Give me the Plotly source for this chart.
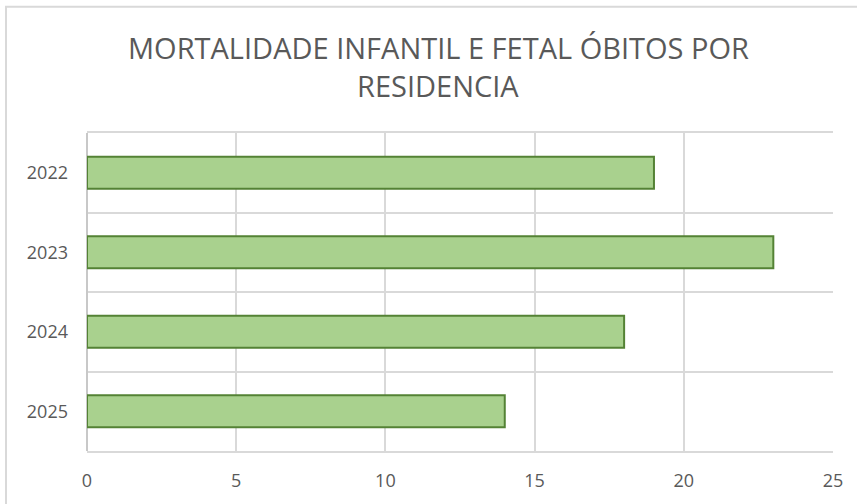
import plotly.graph_objects as go

years = ["2022", "2023", "2024", "2025"]
obitos = [19, 23, 18, 14]
x_ticks = [0, 5, 10, 15, 20, 25]

title_lines = ["MORTALIDADE INFANTIL E FETAL ÓBITOS POR", "RESIDENCIA"]

fig = go.Figure(
    go.Bar(
        x=obitos,
        y=years,
        orientation="h",
        marker=dict(color="#a9d18e", line=dict(color="#548235", width=2)),
        hoverinfo="x+y",
    )
)

# plot area spans px x 87..833, y 133..453
def px_x(px):
    return (px - 87) / 746

def px_y(py):
    return (453 - py) / 320

title_centers = [47, 85]

annotations = [
    dict(
        text=t,
        xref="paper",
        yref="paper",
        x=px_x(438),
        y=px_y(cy),
        xanchor="center",
        yanchor="middle",
        showarrow=False,
        font=dict(family="Open Sans", size=29, color="#595959"),
    )
    for t, cy in zip(title_lines, title_centers)
]

fig.update_layout(
    width=857,
    height=504,
    margin=dict(l=87, r=24, t=133, b=51),
    paper_bgcolor="white",
    plot_bgcolor="white",
    bargap=0.6,
    showlegend=False,
    font=dict(family="Open Sans", color="#595959"),
    annotations=annotations,
    shapes=[
        dict(
            type="rect",
            xref="paper",
            yref="paper",
            x0=px_x(6),
            x1=1.3,
            y0=-0.5,
            y1=px_y(6),
            line=dict(color="#d9d9d9", width=2),
            fillcolor="rgba(0,0,0,0)",
            layer="below",
        )
    ],
)

fig.update_xaxes(
    range=[0, 25],
    tickvals=x_ticks,
    ticktext=[str(v) for v in x_ticks],
    showgrid=True,
    gridcolor="#d9d9d9",
    gridwidth=2,
    zeroline=True,
    zerolinecolor="#c8c8c8",
    zerolinewidth=2,
    showline=True,
    mirror=True,
    linecolor="#d9d9d9",
    linewidth=2,
    ticks="",
    ticklabelstandoff=12,
    tickfont=dict(family="Open Sans", size=18, color="#595959"),
    fixedrange=True,
)

fig.update_yaxes(
    type="category",
    categoryorder="array",
    categoryarray=years,
    autorange="reversed",
    tickson="boundaries",
    showgrid=True,
    gridcolor="#d9d9d9",
    gridwidth=2,
    showline=False,
    ticks="",
    ticklabelstandoff=18,
    tickfont=dict(family="Open Sans", size=18, color="#595959"),
    fixedrange=True,
)

fig.write_html(
    "out.html",
    config={"displayModeBar": False},
    post_script="document.body.style.margin='0';document.body.style.padding='0';",
)
